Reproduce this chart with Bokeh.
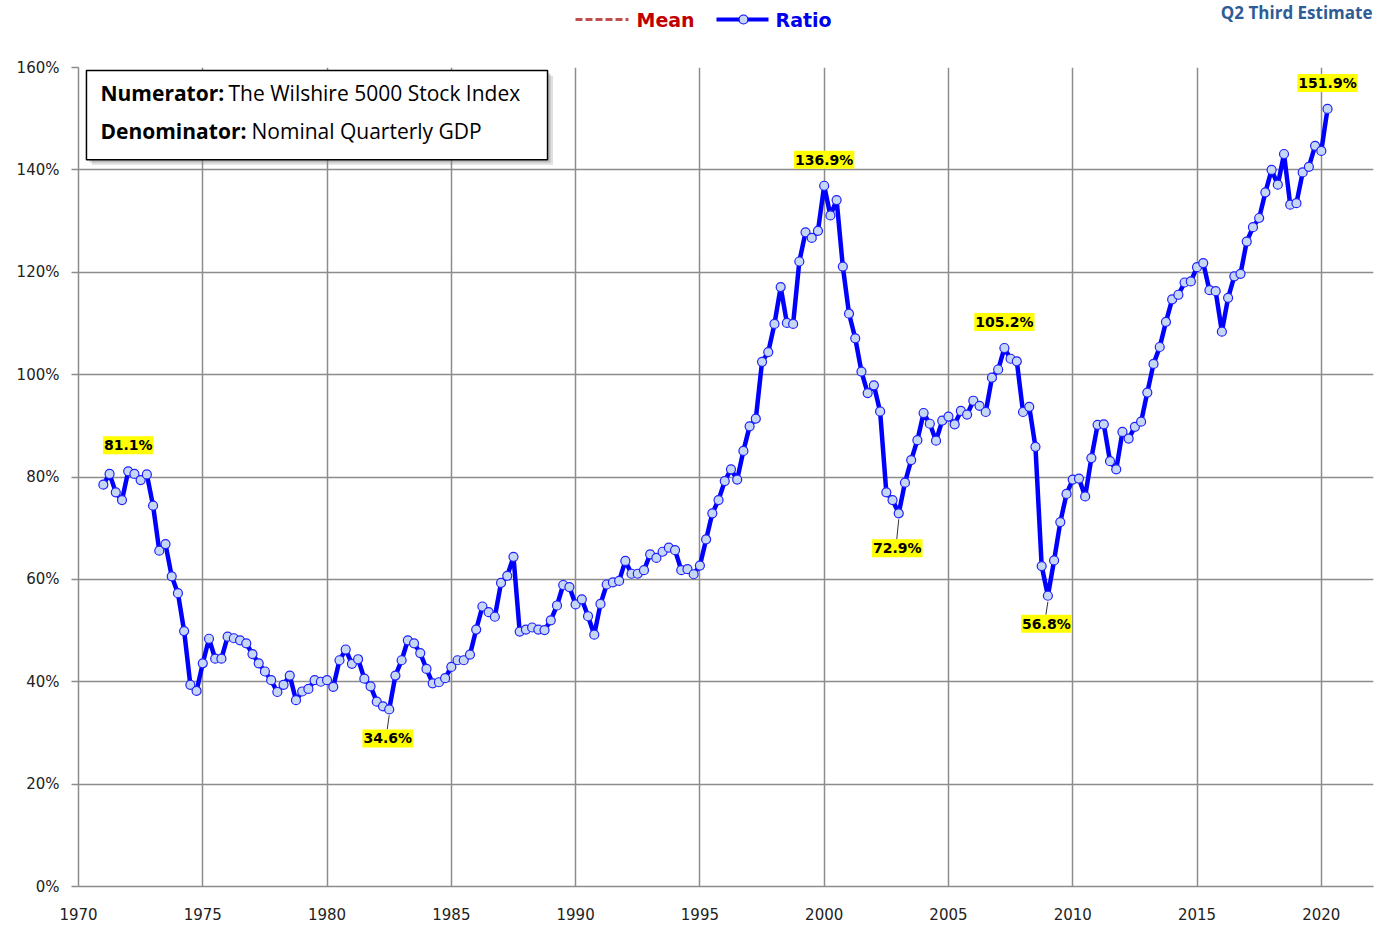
from bokeh.plotting import figure
from bokeh.layouts import column
from bokeh.models import Range1d, FixedTicker, PrintfTickFormatter
from bokeh.core.properties import value
from bokeh.embed import file_html
from bokeh.resources import INLINE

# ---------------- data ----------------
start_year = 1971.0  # first quarter plotted; one point per quarter
ratio = [
    78.5, 80.6, 77.0, 75.5, 81.1, 80.6, 79.4, 80.5,          # 1971-1972
    74.4, 65.6, 66.9, 60.6, 57.3, 49.9, 39.4, 38.2,          # 1973-1974
    43.6, 48.4, 44.5, 44.5, 48.8, 48.5, 48.1, 47.5,          # 1975-1976
    45.4, 43.6, 42.0, 40.3, 38.0, 39.4, 41.2, 36.4,          # 1977-1978
    38.1, 38.6, 40.3, 40.0, 40.3, 39.0, 44.2, 46.3,          # 1979-1980
    43.5, 44.4, 40.6, 39.1, 36.1, 35.2, 34.6, 41.2,          # 1981-1982
    44.2, 48.1, 47.5, 45.6, 42.5, 39.7, 39.9, 40.7,          # 1983-1984
    42.9, 44.2, 44.2, 45.3, 50.2, 54.7, 53.6, 52.7,          # 1985-1986
    59.3, 60.7, 64.4, 49.8, 50.2, 50.6, 50.2, 50.1,          # 1987-1988
    52.0, 54.9, 58.9, 58.5, 55.1, 56.1, 52.8, 49.2,          # 1989-1990
    55.2, 59.0, 59.4, 59.7, 63.6, 61.1, 61.1, 61.8,          # 1991-1992
    64.9, 64.2, 65.4, 66.2, 65.7, 61.8, 62.0, 61.0,          # 1993-1994
    62.7, 67.8, 72.9, 75.5, 79.2, 81.5, 79.5, 85.1,          # 1995-1996
    89.9, 91.4, 102.5, 104.4, 109.9, 117.1, 110.1, 109.9,    # 1997-1998
    122.1, 127.8, 126.7, 128.1, 136.9, 131.1, 134.1, 121.1,  # 1999-2000
    111.9, 107.1, 100.6, 96.4, 97.9, 92.8, 77.0, 75.5,       # 2001-2002
    72.9, 78.9, 83.3, 87.2, 92.5, 90.4, 87.1, 91.0,          # 2003-2004
    91.8, 90.3, 92.9, 92.2, 94.9, 93.9, 92.7, 99.4,          # 2005-2006
    101.0, 105.2, 103.1, 102.6, 92.7, 93.7, 85.9, 62.6,      # 2007-2008
    56.8, 63.7, 71.2, 76.7, 79.5, 79.7, 76.2, 83.7,          # 2009-2010
    90.2, 90.3, 83.1, 81.5, 88.8, 87.5, 89.8, 90.8,          # 2011-2012
    96.5, 102.1, 105.4, 110.3, 114.7, 115.6, 118.0, 118.2,   # 2013-2014
    121.0, 121.8, 116.5, 116.3, 108.4, 115.0, 119.2, 119.7,  # 2015-2016
    126.0, 128.8, 130.6, 135.6, 140.0, 137.1, 143.1, 133.2,  # 2017-2018
    133.5, 139.5, 140.6, 144.7, 143.7, 151.9,                # 2019-2020 Q2
]
years = [start_year + 0.25 * i for i in range(len(ratio))]

x_ticks = [1970, 1975, 1980, 1985, 1990, 1995, 2000, 2005, 2010, 2015, 2020]
y_ticks = [0, 20, 40, 60, 80, 100, 120, 140, 160]

# highlighted extreme points
above_years = [1972.0, 2000.0, 2007.25, 2020.25]
above_values = [81.1, 136.9, 105.2, 151.9]
below_years = [1982.5, 2003.0, 2009.0]
below_values = [34.6, 72.9, 56.8]

legend_labels = ["Mean", "Ratio"]
note_lines = [("Numerator:", "The Wilshire 5000 Stock Index"),
              ("Denominator:", "Nominal Quarterly GDP")]
corner_text = "Q2 Third Estimate"

# ---------------- styles ----------------
W = 1388
TOP_H = 55
MAIN_H = 928 - TOP_H
FRAME_L, FRAME_R = 78, 1373
GRID = "#8c8c8c"
BLUE = "#0000FF"
MARKER_FILL = "#C5D7F2"
PPU = 819 / 160.0  # pixels per percent in the main frame
below_offsets = [29, 35, 28]

# ---------------- legend strip (x in page pixels) ----------------
t = figure(width=W, height=TOP_H, x_range=Range1d(FRAME_L, FRAME_R), y_range=Range1d(TOP_H, 0),
           output_backend="svg", toolbar_location=None,
           x_axis_type=None, y_axis_type=None,
           min_border_left=FRAME_L, min_border_right=W - FRAME_R,
           min_border_top=0, min_border_bottom=0)
t.outline_line_color = None
t.grid.visible = False
t.line([575, 628], [19, 19], line_color="#C0504D", line_width=3, line_dash="7 3")
t.text([636], [19], text=[legend_labels[0]], text_color="#C00000",
       text_font=value("DejaVu Sans"), text_font_style="bold", text_font_size="19px",
       text_baseline="middle", text_align="left")
t.line([716, 768], [19, 19], line_color=BLUE, line_width=4)
t.scatter([743], [19], size=9, fill_color=MARKER_FILL, line_color=BLUE, line_width=1.2)
t.text([775], [19], text=[legend_labels[1]], text_color="#0000EE",
       text_font=value("DejaVu Sans"), text_font_style="bold", text_font_size="19px",
       text_baseline="middle", text_align="left")
t.text([1372], [0], text=[corner_text], text_color="#2F5C96",
       text_font=value("Open Sans"), text_font_style="bold", text_font_size="17px",
       text_baseline="top", text_align="right")

# ---------------- main chart ----------------
p = figure(width=W, height=MAIN_H, x_range=Range1d(1970, 2022.1), y_range=Range1d(0, 160),
           output_backend="svg", toolbar_location=None,
           min_border_left=FRAME_L, min_border_right=W - FRAME_R, min_border_top=12,
           min_border_bottom=MAIN_H - (886 - TOP_H))
p.outline_line_color = None
p.background_fill_color = "white"

p.xgrid.ticker = FixedTicker(ticks=x_ticks)
p.ygrid.ticker = FixedTicker(ticks=y_ticks)
p.grid.grid_line_color = GRID
p.grid.grid_line_width = 1.5

p.xaxis.ticker = FixedTicker(ticks=x_ticks)
p.yaxis.ticker = FixedTicker(ticks=y_ticks)
p.xaxis.formatter = PrintfTickFormatter(format="%d")
p.yaxis.formatter = PrintfTickFormatter(format="%d%%")
p.axis.axis_line_color = GRID
p.axis.axis_line_width = 1.5
p.axis.minor_tick_line_color = None
p.xaxis.major_tick_line_color = None
p.yaxis.major_tick_line_color = GRID
p.yaxis.major_tick_line_width = 1.5
p.yaxis.major_tick_out = 7
p.yaxis.major_tick_in = 0
p.yaxis.major_label_standoff = 12
p.xaxis.major_label_standoff = 15
p.axis.major_label_text_font = "DejaVu Sans"
p.axis.major_label_text_font_size = "15px"
p.axis.major_label_text_color = "#222222"

# note box with shadow
bx0, bx1, by0, by1 = 1970.32, 1988.87, 142.0, 159.4
p.quad(left=[bx0 + 0.22], right=[bx1 + 0.22], bottom=[by0 - 1.0], top=[by1 - 1.0],
       fill_color="#7f7f7f", fill_alpha=0.25, line_color=None)
p.quad(left=[bx0 + 0.12], right=[bx1 + 0.12], bottom=[by0 - 0.55], top=[by1 - 0.55],
       fill_color="#7f7f7f", fill_alpha=0.35, line_color=None)
p.quad(left=[bx0], right=[bx1], bottom=[by0], top=[by1],
       fill_color="white", line_color="black", line_width=1.5)
for (bold_txt, reg_txt), yv, off in zip(note_lines, [155.1, 147.5], [128, 151]):
    p.text([1970.885], [yv], text=[bold_txt], text_color="black",
           text_font=value("Open Sans"), text_font_style="bold", text_font_size="21px",
           text_baseline="middle", text_align="left")
    p.text([1970.885], [yv], text=[reg_txt], x_offset=off, text_color="black",
           text_font=value("Open Sans"), text_font_size="21px",
           text_baseline="middle", text_align="left")

# ratio line
p.line(years, ratio, line_color=BLUE, line_width=4.5)
p.scatter(years, ratio, size=9, fill_color=MARKER_FILL, line_color="#2020FF", line_width=1.2)

# leader lines for labels below points
for yr, v, off in zip(below_years, below_values, below_offsets):
    p.segment(x0=[yr], y0=[v - 6 / PPU], x1=[yr - 0.08], y1=[v - (off - 9) / PPU],
              line_color="#333333", line_width=1)

label_style = dict(text_color="black", text_font=value("DejaVu Sans"), text_font_style="bold",
                   text_font_size="14px", text_align="center", text_baseline="middle",
                   background_fill_color="#FFFF00", padding=1)
p.text(above_years, above_values, text=["%.1f%%" % v for v in above_values],
       y_offset=-26, **label_style)
for yr, v, off in zip(below_years, below_values, below_offsets):
    p.text([yr - 0.06], [v], text=["%.1f%%" % v], y_offset=off, **label_style)

layout = column(t, p)
open("out.html", "w").write(file_html(layout, INLINE))
